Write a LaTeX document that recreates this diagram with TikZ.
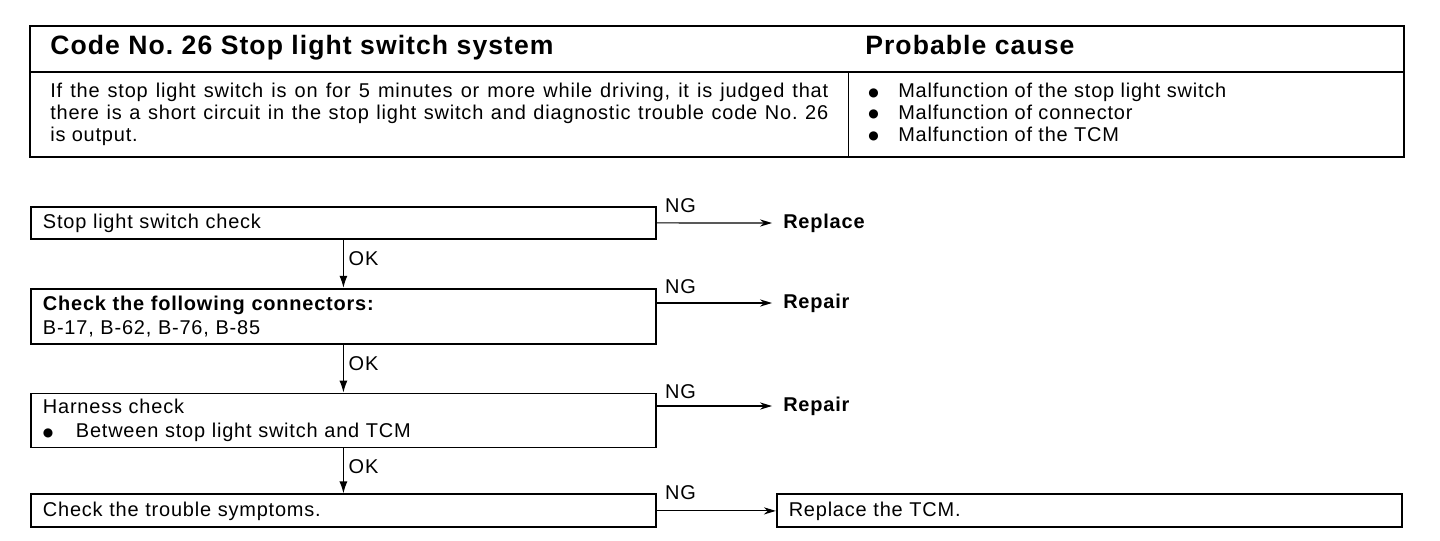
\documentclass[tikz,border=0pt]{standalone}
\usepackage{fontspec}
\setmainfont{Liberation Sans}[LetterSpace=4]
\newfontfamily\dotfont{DejaVu Sans}
\newcommand{\blt}{\raisebox{0.08em}{\dotfont\fontsize{8.5}{8.5}\selectfont ●}}
\usetikzlibrary{positioning,arrows.meta}
\frenchspacing

\begin{document}
\begin{tikzpicture}[
  >=Latex,
  font=\fontsize{14.2}{17}\selectfont,
  frame/.style={line width=2pt},
  head/.style={anchor=base west, inner sep=0pt, font=\fontsize{18.9}{21}\selectfont\bfseries},
  cell/.style={anchor=north west, inner sep=0pt, font=\fontsize{14.2}{15.5}\selectfont},
  stepbox/.style={draw, line width=1.3pt, text width=15.025cm, inner xsep=0.3cm, inner ysep=0pt, align=left},
  remedy/.style={anchor=west, inner xsep=0.275cm, inner ysep=0pt, font=\fontsize{14.2}{17}\selectfont\bfseries},
  okarrow/.style={-{Latex[length=0.3cm,width=0.2cm]}, line width=0.9pt},
  ngarrow/.style={-{Stealth[length=0.3cm,width=0.18cm]}, line width=0.8pt}
]
\path[fill=white, use as bounding box] (0,0) rectangle (36,-13.5);

% code table
\draw[frame] (0.75,-0.65) rectangle (35.1,-3.925);
\draw[line width=1.4pt] (0.75,-1.8) -- (35.1,-1.8);
\draw[line width=0.6pt] (21.2,-1.8) -- (21.2,-3.925);

\node[head] (title) at (1.25,-1.35) {Code No. 26 Stop light switch system};
\node[head] (cause) at (21.625,-1.35) {Probable cause};

\node[cell, text width=19.45cm, align=justify] (desc) at (1.25,-2.075)
{If the stop light switch is on for 5 minutes or more while driving, it is judged that\linebreak
there is a short circuit in the stop light switch and diagnostic trouble code No. 26\linebreak
is output.};

\node[cell, align=left] (list) at (21.7,-2.075)
{\makebox[0.75cm][l]{\blt}Malfunction of the stop light switch\\
\makebox[0.75cm][l]{\blt}Malfunction of connector\\
\makebox[0.75cm][l]{\blt}Malfunction of the TCM};

% flow chart
\node[stepbox, minimum height=0.8cm, anchor=north west] (b1) at (0.75,-5.15)
{Stop light switch check};
\node[stepbox, minimum height=1.375cm, below=1.2cm of b1] (b2)
{\textbf{Check the following connectors:}\\
B-17, B-62, B-76, B-85};
\node[stepbox, minimum height=1.35cm, below=1.2cm of b2] (b3)
{Harness check\\
\makebox[0.825cm][l]{\blt}Between stop light switch and TCM};
\node[stepbox, minimum height=0.825cm, below=1.125cm of b3] (b4)
{Check the trouble symptoms.};
\node[stepbox, minimum height=0.825cm, right=2.975cm of b4] (b5)
{Replace the TCM.};

\node[remedy] (r1) at (19.3,-5.575) {Replace};
\node[remedy] (r2) at (19.3,-7.575) {Repair};
\node[remedy] (r3) at (19.3,-10.15) {Repair};

\draw[okarrow] (b1) -- node[right, pos=0.4] (ok1) {OK} (b2);
\draw[okarrow] (b2) -- node[right, pos=0.4] (ok2) {OK} (b3);
\draw[okarrow] (b3) -- node[right, pos=0.4] (ok3) {OK} (b4);

\draw[ngarrow] (b1.east) -- (r1.west);
\draw[ngarrow] (r2.west -| b2.east) -- (r2.west);
\draw[ngarrow] (r3.west -| b3.east) -- (r3.west);
\draw[ngarrow] (b4) -- (b5);

\foreach \b in {b1,b2,b3,b4}
  \node[anchor=west, inner sep=0pt] (ng-\b) at ([xshift=0.2cm,yshift=0.02cm]\b.north east) {NG};

\end{tikzpicture}
\end{document}
